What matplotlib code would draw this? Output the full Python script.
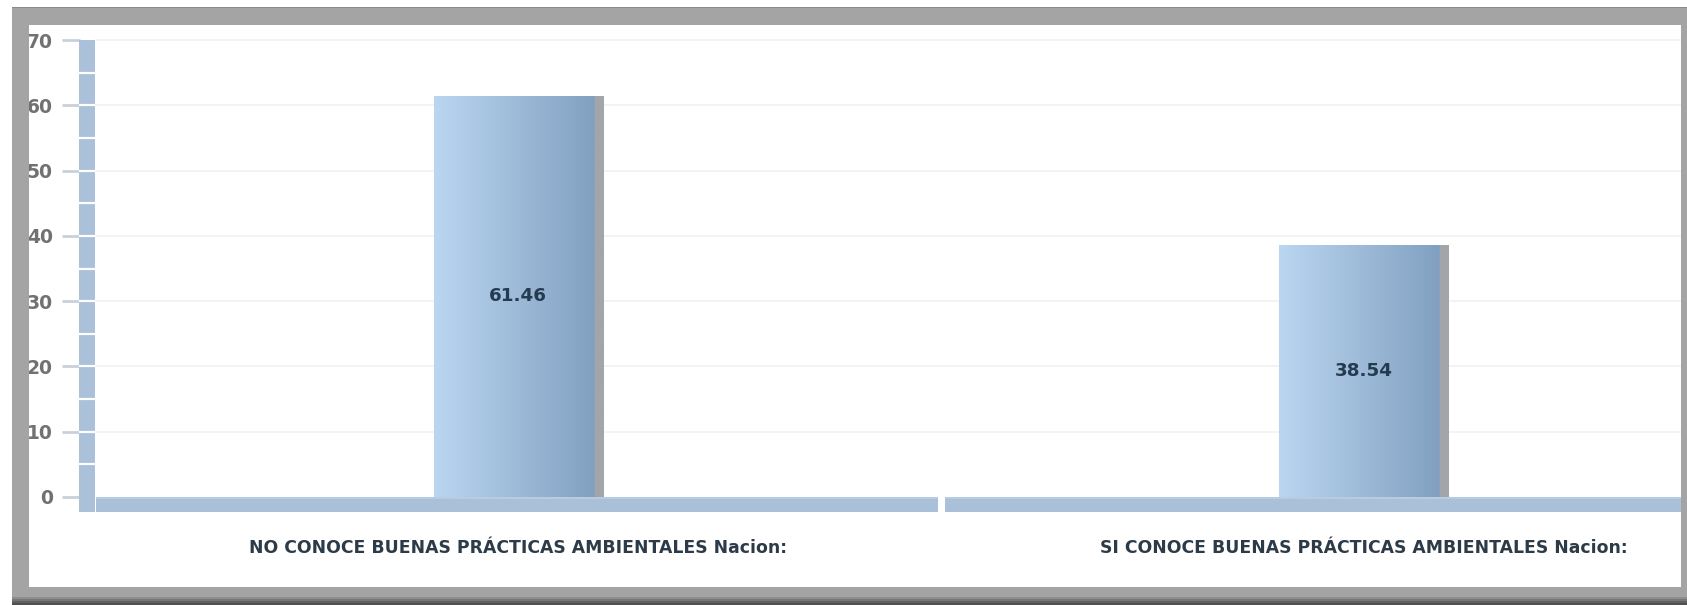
import numpy as np
import matplotlib
matplotlib.use("Agg")
import matplotlib.pyplot as plt
from matplotlib.patches import Rectangle
from matplotlib.colors import to_rgb

categories = [
    "NO CONOCE BUENAS PRÁCTICAS AMBIENTALES Nacion:",
    "SI CONOCE BUENAS PRÁCTICAS AMBIENTALES Nacion:",
]
values = [61.46, 38.54]
y_ticks = [0, 10, 20, 30, 40, 50, 60, 70]

W, H = 1687, 605
DPI = 100
fig = plt.figure(figsize=(W / DPI, H / DPI), dpi=DPI, facecolor="white")


def px_box(x0, y0, x1, y1):
    """Figure-fraction box from pixel edges (y measured from the top)."""
    return [x0 / W, 1 - y1 / H, (x1 - x0) / W, (y1 - y0) / H]


AX_L, AX_T, AX_R, AX_B = 80, 25, 1681, 587
ax = fig.add_axes(px_box(AX_L, AX_T, AX_R, AX_B))
ax.set_facecolor("none")

# scales: one category = 845.7 px, 10 units = 65.3 px
unit_x = 845.7
unit_y = 457.0 / 70
zero_px, floor_left_px = 497, 95.5
x_left = -0.5 - (floor_left_px - AX_L) / unit_x
x_right = -0.5 + (AX_R - floor_left_px) / unit_x
y_top = 70 + (40 - AX_T) / unit_y
y_bot = -(AX_B - zero_px) / unit_y

x = np.arange(len(categories))
bar_w = 0.2

# faint horizontal gridlines
for t in y_ticks[1:]:
    ax.plot([-0.5, x_right], [t, t], color="#eff1f2", lw=1.2, zorder=0.5)

# floor band under the bars, split per category
floor_depth = 2.3
gap = 3.5 / unit_x
for i in x:
    x0 = i - 0.5 + (gap if i > 0 else 0)
    w = 1 - (gap if i > 0 else 0) - gap
    ax.add_patch(Rectangle((x0, -floor_depth), w, floor_depth,
                           facecolor="#aabfd8", edgecolor="none", zorder=2))
    ax.add_patch(Rectangle((x0, -0.35), w, 0.35,
                           facecolor="#b9cbe0", edgecolor="none", zorder=2.1))

# left wall, segmented every 5 units
wall_x0 = -0.5 - (floor_left_px - 79) / unit_x
wall_w = 16 / unit_x
ax.add_patch(Rectangle((wall_x0, -2.3), wall_w, 72.3, facecolor="#abc0d9",
                       edgecolor="none", zorder=2, clip_on=False))
for t in np.arange(5, 70, 5):
    ax.plot([wall_x0, wall_x0 + wall_w], [t, t], color="white", lw=1.6,
            zorder=2.2, solid_capstyle="butt", clip_on=False)

# bars with horizontal shading
c_left = np.array(to_rgb("#bbd6f1"))
c_right = np.array(to_rgb("#7e9dbe"))
c_edge = np.array(to_rgb("#a2a5aa"))
n = 200
frac = np.linspace(0, 1, n)
grad = np.array([c_left + (c_right - c_left) * f for f in frac])
grad[int(n * 0.945):] = c_edge
grad = grad[np.newaxis, :, :]

bars = ax.bar(x, values, width=bar_w, color="#a0bad7", edgecolor="none",
              zorder=3)
for rect, v in zip(bars, values):
    x0 = rect.get_x()
    im = ax.imshow(grad, extent=(x0, x0 + bar_w, 0, v), aspect="auto",
                   interpolation="bilinear", zorder=3.1)
    im.set_clip_path(rect)
    ax.text(rect.get_x() + bar_w / 2, v / 2, f"{v:.2f}",
            ha="center", va="center", fontsize=13.2, fontweight="bold",
            color="#243b50", zorder=4)

# category labels
for i, lab in zip(x, categories):
    ax.text(i, -7.8, lab, ha="center", va="center", fontsize=12.4,
            fontweight="bold", color="#2d3b48", zorder=4)

ax.set_xlim(x_left, x_right)
ax.set_ylim(y_bot, y_top)
ax.set_xticks([])
ax.set_yticks(y_ticks)
ax.set_yticklabels([str(t) for t in y_ticks])
ax.tick_params(axis="y", length=13, width=2, color="#c9d0dc", pad=6.5,
               labelsize=13.5, labelcolor="#717171")
for lbl in ax.get_yticklabels():
    lbl.set_fontweight("bold")
for s in ax.spines.values():
    s.set_visible(False)

# surrounding frame
frame_col = "#a4a4a4"
bands = [
    (12, 7, 1687, 25),    # top
    (12, 7, 29, 605),     # left
    (1681, 7, 1687, 605), # right
    (12, 587, 1687, 605), # bottom
]
for (x0, y0, x1, y1) in bands:
    fig.patches.append(Rectangle((x0 / W, 1 - y1 / H), (x1 - x0) / W,
                                 (y1 - y0) / H, transform=fig.transFigure,
                                 facecolor=frame_col, edgecolor="none",
                                 zorder=10))
# darker shading along the lower edge of the frame
for k, col in enumerate(["#8e8e8e", "#777777", "#606060", "#4f4f4f"]):
    y0 = 597 + k * 2
    fig.patches.append(Rectangle((12 / W, 1 - (y0 + 2) / H), (W - 12) / W,
                                 2 / H, transform=fig.transFigure,
                                 facecolor=col, edgecolor="none", zorder=11))
fig.patches.append(Rectangle((12 / W, 1 - 8 / H), (W - 12) / W, 1 / H,
                             transform=fig.transFigure, facecolor="#8a8a8a",
                             edgecolor="none", zorder=11))

fig.savefig("out.png", dpi=DPI, facecolor="white")
